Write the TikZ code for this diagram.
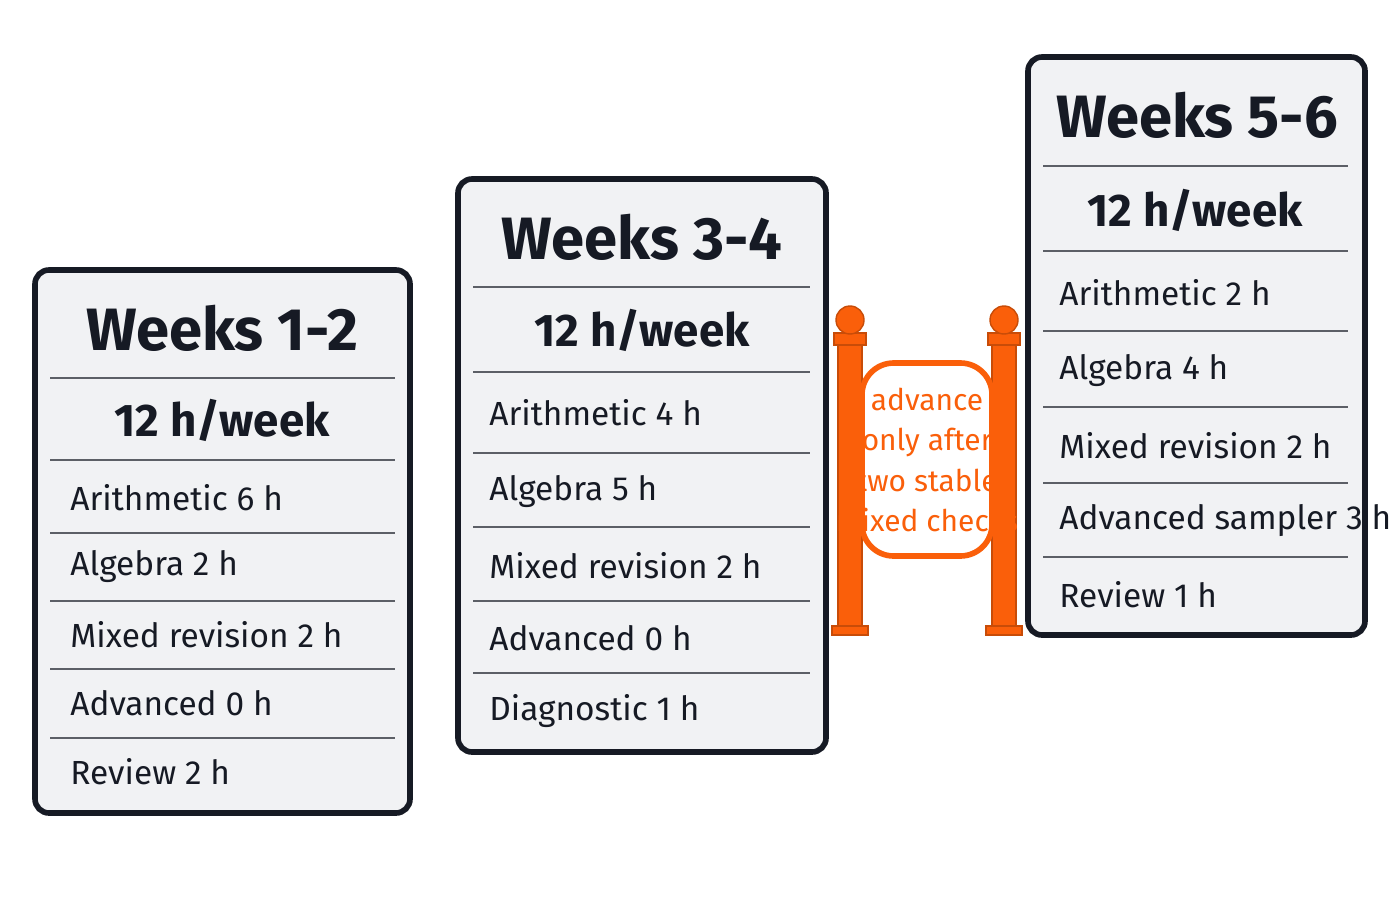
\documentclass[tikz,border=0pt]{standalone}
\usepackage{fontspec}
\setmainfont{Fira Sans}
\usetikzlibrary{positioning}
\definecolor{gateorange}{RGB}{250,95,10}
\definecolor{panelfill}{RGB}{241,242,244}
\definecolor{inkdark}{RGB}{22,26,36}
\tikzset{
  panel/.style={draw=inkdark,line width=1.6pt,rounded corners=4pt,fill=panelfill},
  sep/.style={draw=inkdark!70,line width=0.6pt},
  wtitle/.style={font=\fontsize{17}{20}\selectfont\bfseries,text=inkdark},
  wsub/.style={font=\fontsize{13}{16}\selectfont\bfseries,text=inkdark},
  item/.style={font=\fontsize{9.5}{12}\selectfont,text=inkdark,anchor=west},
  post/.style={fill=gateorange,draw=gateorange!80!black,line width=0.4pt},
  signtext/.style={font=\fontsize{8.5}{11.5}\selectfont,text=gateorange,align=center}
}
\begin{document}
\begin{tikzpicture}[x=0.01cm,y=-0.01cm]
\useasboundingbox[fill=white] (0,0) rectangle (1400,900);
% weeks 1-2
\draw[panel] (35,270) rectangle (410,813);
\foreach \yy in {378,460,533,601,669,738} \draw[sep] (50,\yy) -- (395,\yy);
\node[wtitle] (t1) at (222,328) {Weeks 1-2};
\node[wsub] (s1) at (222,420) {12 h/week};
\node[item] (a1) at (58,498) {Arithmetic 6 h};
\node[item] (b1) at (58,567) {Algebra 2 h};
\node[item] (c1) at (58,635) {Mixed revision 2 h};
\node[item] (d1) at (58,703) {Advanced 0 h};
\node[item] (e1) at (58,772) {Review 2 h};
% weeks 3-4
\draw[panel] (458,179) rectangle (826,752);
\foreach \yy in {287,372,453,527,601,673} \draw[sep] (473,\yy) -- (810,\yy);
\node[wtitle] (t2) at (642,237) {Weeks 3-4};
\node[wsub] (s2) at (642,330) {12 h/week};
\node[item] (a2) at (477,413) {Arithmetic 4 h};
\node[item] (b2) at (477,492) {Algebra 5 h};
\node[item] (c2) at (477,566) {Mixed revision 2 h};
\node[item] (d2) at (477,638) {Advanced 0 h};
\node[item] (e2) at (477,711) {Diagnostic 1 h};
% weeks 5-6
\draw[panel] (1028,57) rectangle (1365,635);
\foreach \yy in {166,251,331,407,483,557} \draw[sep] (1043,\yy) -- (1348,\yy);
\node[wtitle] (t3) at (1197,115) {Weeks 5-6};
\node[wsub] (s3) at (1195,210) {12 h/week};
\node[item] (a3) at (1047,293) {Arithmetic 2 h};
\node[item] (b3) at (1047,371) {Algebra 4 h};
\node[item] (c3) at (1047,446) {Mixed revision 2 h};
\node[item] (d3) at (1047,521) {Advanced sampler 3 h};
\node[item] (e3) at (1047,595) {Review 1 h};
% gate
\foreach \px in {850,1004}{
  \fill[post] (\px-12,340) rectangle (\px+12,633);
  \fill[post] (\px-16,333) rectangle (\px+16,345);
  \fill[post] (\px-18,626) rectangle (\px+18,635);
  \fill[post] (\px,320) circle (14);
}
\draw[draw=gateorange,line width=1.6pt,fill=white,rounded corners=9pt] (862,363) rectangle (992,556);
\node[signtext] (gate) at (927,460) {advance\\only after\\two stable\\mixed checks};
\end{tikzpicture}
\end{document}
